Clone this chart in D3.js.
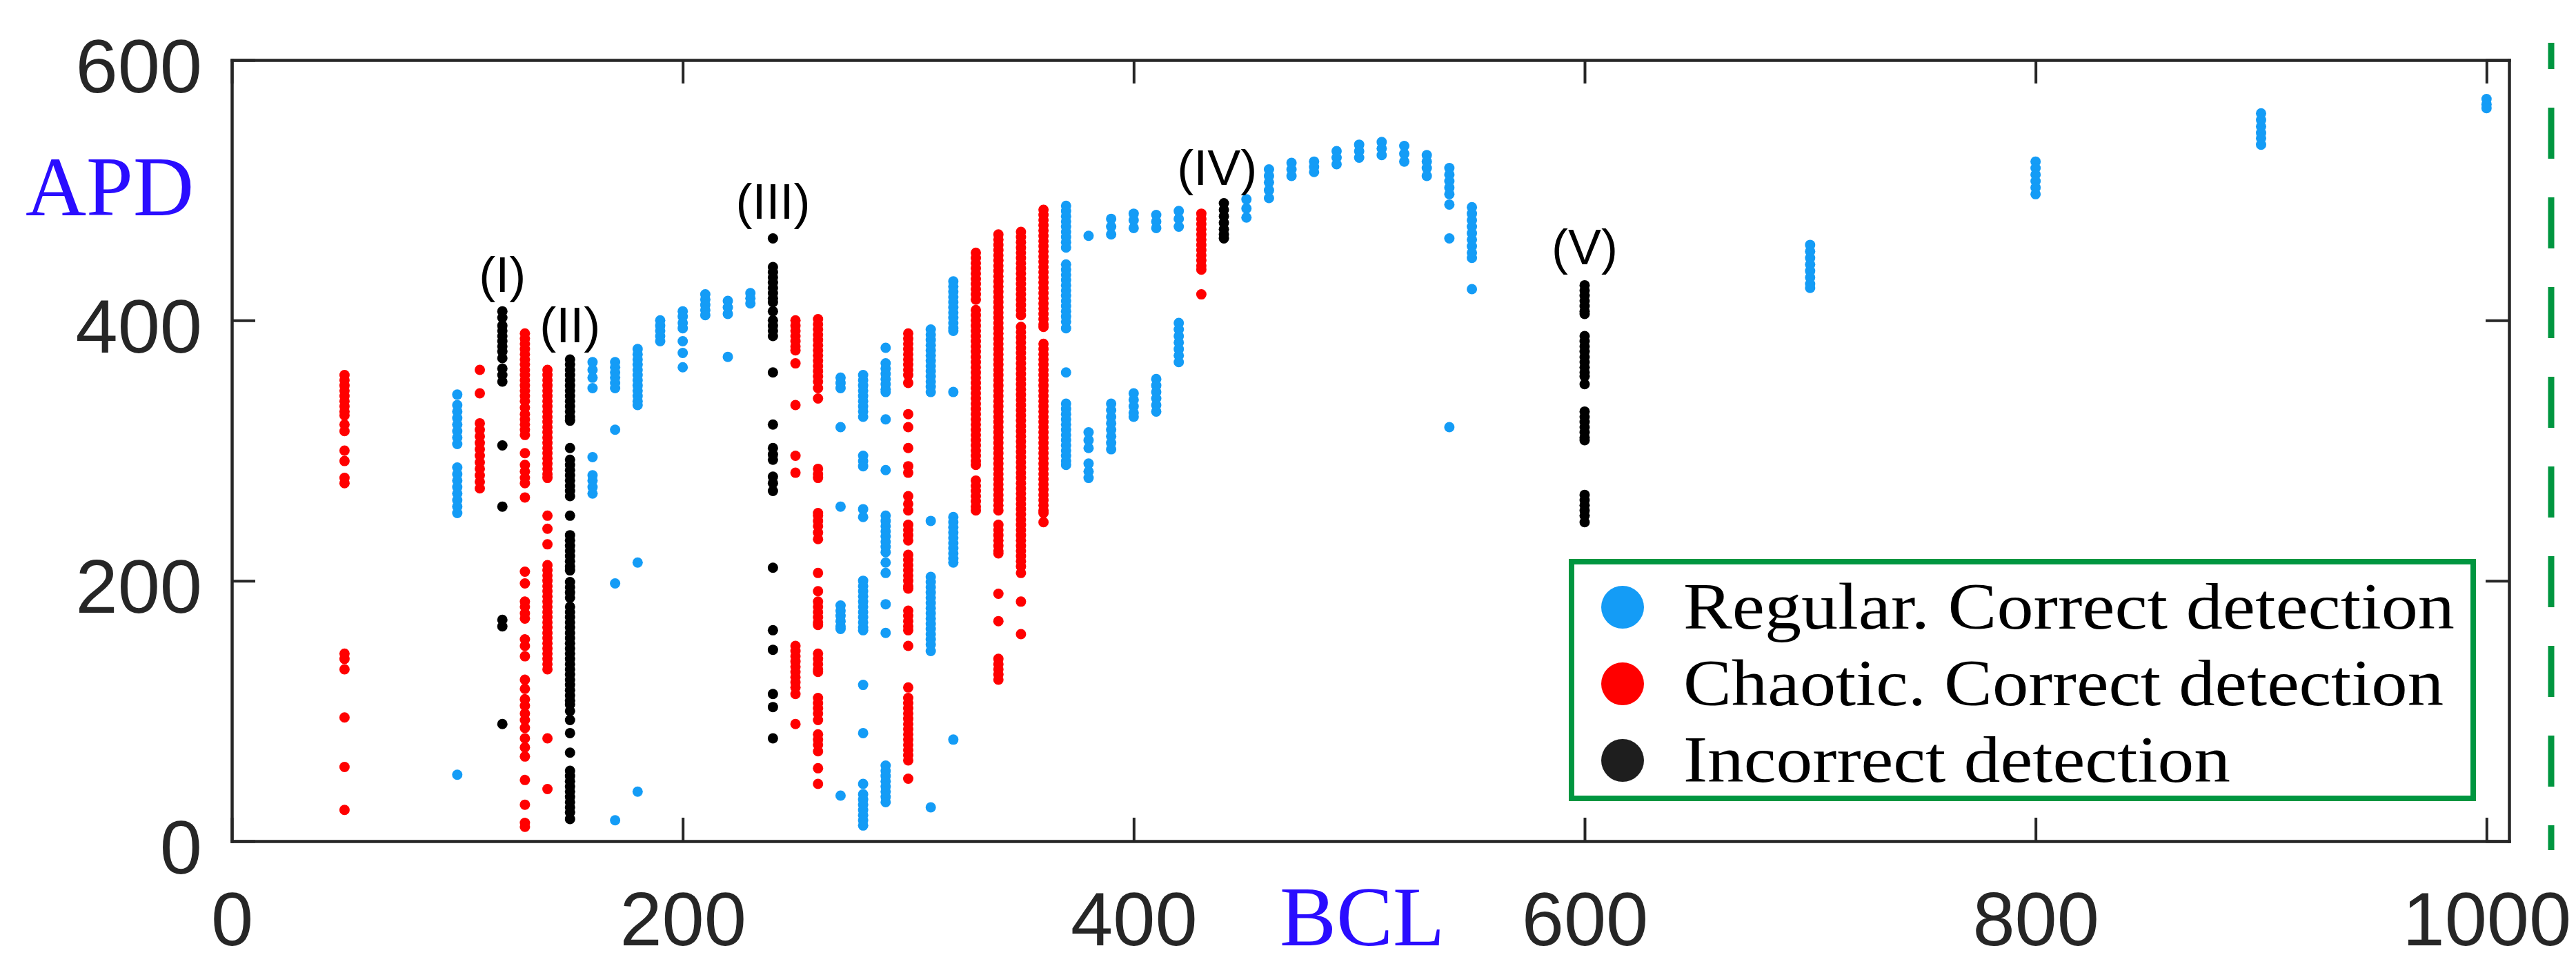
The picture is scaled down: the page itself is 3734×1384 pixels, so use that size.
<!DOCTYPE html>
<html>
<head>
<meta charset="utf-8">
<script src="https://cdn.jsdelivr.net/npm/d3@7"></script>
<style>
  html, body { margin: 0; padding: 0; background: #ffffff; }
  svg { display: block; }
</style>
</head>
<body>
<div id="chart"></div>
<script>
// ---------------- DATA ----------------
const xTicks = [0, 200, 400, 600, 800, 1000];
const yTicks = [0, 200, 400, 600];
const xDomain = [0, 1010];
const yDomain = [0, 600];

const seriesNames = ["Regular. Correct detection", "Chaotic. Correct detection", "Incorrect detection"];
const seriesColors = ["#149cf6", "#ff0000", "#000000"];
const legendColors = ["#149cf6", "#ff0000", "#1e1e1e"];

// [BCL, [APD values]]
const regular = [
  [100, [343,335,330,325,320,315,310,305,287,282,277,272,267,262,257,252,51]],
  [160, [368,362,356,348,295,281,277,272,267]],
  [170, [368,364,360,356,352,348,316,198,16]],
  [180, [378,374,370,366,362,358,354,350,346,342,338,335,214,38]],
  [190, [400,396,392,388,384]],
  [200, [407,403,398,394,384,375,364]],
  [210, [420,416,412,408,404]],
  [220, [415,410,405,372]],
  [230, [421,417,413]],
  [270, [356,352,348,318,257,181,177,173,169,165,163,35]],
  [280, [358,354,350,346,342,338,334,330,326,296,292,288,255,249,200,196,192,188,184,180,176,172,168,164,162,120,83,44,36,32,28,24,20,16,12]],
  [290, [379,367,363,359,355,351,347,345,324,285,250,246,242,238,234,230,226,222,214,206,182,160,58,54,50,46,42,38,34,30]],
  [310, [393,389,385,381,377,373,369,365,361,357,353,349,345,246,203,199,195,191,187,183,179,175,171,167,163,159,155,151,146,26]],
  [320, [430,426,422,418,414,410,406,402,398,394,392,345,249,245,241,237,233,229,225,221,217,214,78]],
  [370, [488,484,480,476,472,468,464,460,456,443,439,435,431,427,423,419,415,411,407,403,399,394,360,336,332,328,324,320,316,312,308,304,300,296,292,289]],
  [380, [465,314,308,302,290,284,279]],
  [390, [478,472,466,336,331,326,321,316,311,306,301]],
  [400, [482,477,471,344,339,334,329,326]],
  [410, [481,476,471,355,350,345,340,335,330]],
  [420, [484,478,472,398,393,388,383,378,373,368]],
  [450, [493,486,479]],
  [460, [516,511,506,500,494]],
  [470, [521,516,511]],
  [480, [522,518,514]],
  [490, [530,525,520]],
  [500, [535,530,525]],
  [510, [537,532,527]],
  [520, [534,528,522]],
  [530, [527,522,517,511]],
  [540, [517,512,507,502,497,489,463,318]],
  [550, [487,482,477,472,467,462,457,452,448,424]],
  [700, [458,453,448,443,438,433,428,425]],
  [800, [522,517,512,507,502,497]],
  [900, [559,554,549,544,540,535]],
  [1000, [570,566,563]]
];

const chaotic = [
  [50, [358,354,350,346,342,338,334,330,327,320,315,300,292,279,275,144,140,132,95,57,24]],
  [110, [362,344,321,316,311,306,301,296,291,286,281,276,271]],
  [130, [390,386,382,378,374,370,366,362,358,354,350,346,342,338,333,328,324,320,316,312,298,289,284,279,275,264,207,198,184,180,175,171,155,150,142,124,117,109,104,98,93,87,79,72,65,47,28,14,11]],
  [140, [362,358,354,350,346,342,338,334,330,326,322,318,314,310,306,302,298,294,290,286,282,279,250,240,228,212,208,204,200,196,192,188,184,180,176,172,168,164,160,156,152,148,144,140,136,132,79,40]],
  [250, [400,396,392,388,384,380,377,367,335,296,283,150,146,142,138,134,130,126,122,118,113,90]],
  [260, [401,397,393,389,385,381,377,373,369,365,361,357,353,348,340,286,282,279,252,250,246,242,237,232,206,192,184,180,176,172,168,166,144,140,136,132,130,110,106,102,98,93,82,78,74,69,56,44]],
  [300, [390,386,382,378,374,370,366,362,358,352,328,318,302,288,283,265,259,254,243,239,235,231,220,216,212,208,204,200,196,194,177,173,169,165,162,150,118,110,106,102,98,94,90,86,82,78,74,70,66,62,48]],
  [330, [452,448,444,440,436,432,428,424,420,416,408,404,400,396,392,388,384,380,376,372,368,364,360,356,352,348,344,340,336,332,328,324,320,316,312,308,304,300,296,292,289,277,273,269,265,261,257,254]],
  [340, [466,462,458,454,450,446,442,438,434,430,426,422,418,414,410,406,402,398,394,390,386,382,378,374,370,366,362,358,354,350,346,342,338,334,330,326,322,318,314,310,306,302,298,294,290,286,282,278,274,270,266,262,258,254,243,239,235,231,227,223,221,190,169,140,136,132,128,124]],
  [350, [468,464,460,456,452,448,444,440,436,432,428,424,420,416,412,408,404,395,391,387,383,379,375,371,367,363,359,355,351,347,343,339,335,331,327,323,319,315,311,307,303,299,295,291,287,283,279,275,271,267,263,259,255,251,247,243,239,235,231,227,223,219,215,211,206,184,159]],
  [360, [485,481,477,473,469,465,461,457,453,449,445,441,437,433,429,425,421,417,413,409,405,401,397,395,382,378,374,370,366,362,358,354,350,346,342,338,334,330,326,322,318,314,310,306,302,298,294,290,286,282,278,274,270,266,262,258,254,252,245]],
  [430, [482,478,474,470,466,462,458,454,450,446,442,439,420]]
];

const incorrect = [
  [120, [407,402,396,392,388,384,380,376,371,363,358,353,304,257,170,165,90]],
  [150, [370,366,362,358,354,350,346,342,338,334,330,326,323,302,293,289,285,281,277,273,269,265,250,235,231,227,223,219,215,211,208,199,195,191,187,180,176,172,168,164,160,156,152,148,144,140,136,132,128,124,120,116,112,108,105,100,93,83,68,54,50,46,42,38,34,30,26,22,17]],
  [240, [463,441,437,433,429,425,421,417,414,407,400,396,392,388,360,320,302,297,293,280,275,269,210,162,147,113,103,79]],
  [440, [490,485,480,475,470,466,463]],
  [600, [427,423,419,415,411,407,405,388,384,380,376,372,368,364,360,357,351,330,326,322,318,314,310,308,266,262,258,254,250,245]]
];

// Annotation labels, anchored in data coordinates (BCL, APD of text baseline)
const annotationLabels = ["(I)", "(II)", "(III)", "(IV)", "(V)"];
const annotationBCL = [120, 150, 240, 437, 600];
const annotationAPD = [422, 383, 478, 504, 443];

// ---------------- LAYOUT ----------------
const W = 3734, H = 1384;
const plot = { left: 336, right: 3637, top: 87, bottom: 1219 };
const axisColor = "#262626";
const tickFont = "'Liberation Sans', Arial, Helvetica, sans-serif";
const serifFont = "'Liberation Serif', 'Times New Roman', serif";

const svg = d3.select("#chart").append("svg")
  .attr("width", W).attr("height", H)
  .attr("viewBox", `0 0 ${W} ${H}`);

svg.append("rect").attr("width", W).attr("height", H).attr("fill", "#ffffff");

const x = d3.scaleLinear().domain(xDomain).range([plot.left, plot.right]);
const y = d3.scaleLinear().domain(yDomain).range([plot.bottom, plot.top]);

// ---------------- POINTS ----------------
function flatten(series) {
  const out = [];
  series.forEach(([bcl, vals]) => vals.forEach(v => out.push({ bcl, apd: v })));
  return out;
}
const groups = [regular, chaotic, incorrect];
const pointsG = svg.append("g").attr("class", "points");
groups.forEach((series, i) => {
  pointsG.append("g")
    .selectAll("circle")
    .data(flatten(series))
    .join("circle")
    .attr("cx", d => x(d.bcl))
    .attr("cy", d => y(d.apd))
    .attr("r", 7.5)
    .attr("fill", seriesColors[i]);
});

// ---------------- AXES ----------------
const tickLen = 34;
function styleAxis(g) {
  g.selectAll("path.domain").attr("stroke", axisColor).attr("stroke-width", 4.5);
  g.selectAll(".tick line").attr("stroke", axisColor).attr("stroke-width", 4);
}

const gx = svg.append("g")
  .attr("transform", `translate(0,${plot.bottom})`)
  .call(d3.axisBottom(x).tickValues(xTicks).tickSizeInner(-tickLen).tickSizeOuter(0).tickFormat(d3.format("d")))
  .call(styleAxis);
gx.selectAll(".tick text")
  .attr("y", 151).attr("dy", null)
  .attr("fill", axisColor)
  .style("font-family", tickFont).style("font-size", "110px");

const gy = svg.append("g")
  .attr("transform", `translate(${plot.left},0)`)
  .call(d3.axisLeft(y).tickValues(yTicks).tickSizeInner(-tickLen).tickSizeOuter(0).tickFormat(d3.format("d")))
  .call(styleAxis);
gy.selectAll(".tick text")
  .attr("x", -43).attr("dy", null).attr("y", 46)
  .attr("fill", axisColor)
  .style("font-family", tickFont).style("font-size", "110px");

svg.append("g")
  .attr("transform", `translate(0,${plot.top})`)
  .call(d3.axisTop(x).tickValues(xTicks).tickSizeInner(-tickLen).tickSizeOuter(0).tickFormat(""))
  .call(styleAxis);

svg.append("g")
  .attr("transform", `translate(${plot.right},0)`)
  .call(d3.axisRight(y).tickValues(yTicks).tickSizeInner(-tickLen).tickSizeOuter(0).tickFormat(""))
  .call(styleAxis);

svg.selectAll(".domain").attr("stroke-linecap", "square");

// ---------------- AXIS TITLES ----------------
svg.append("text")
  .attr("x", 37).attr("y", 312)
  .attr("fill", "#2a0dff")
  .style("font-family", serifFont).style("font-size", "122px")
  .text("APD");

svg.append("text")
  .attr("x", 1855).attr("y", 1370)
  .attr("fill", "#2a0dff")
  .style("font-family", serifFont).style("font-size", "123px")
  .text("BCL");

// ---------------- ANNOTATIONS ----------------
svg.append("g").selectAll("text")
  .data(annotationLabels)
  .join("text")
  .attr("x", (d, i) => x(annotationBCL[i]))
  .attr("y", (d, i) => y(annotationAPD[i]))
  .attr("text-anchor", "middle")
  .attr("fill", "#000000")
  .style("font-family", tickFont).style("font-size", "72px")
  .text(d => d);

// ---------------- LEGEND ----------------
const legend = svg.append("g").attr("class", "legend");
const lg = { x0: 2274, y0: 810, x1: 3589, y1: 1161, sw: 8 };
legend.append("rect")
  .attr("x", lg.x0 + lg.sw / 2).attr("y", lg.y0 + lg.sw / 2)
  .attr("width", lg.x1 - lg.x0 - lg.sw).attr("height", lg.y1 - lg.y0 - lg.sw)
  .attr("fill", "#ffffff")
  .attr("stroke", "#009640").attr("stroke-width", lg.sw);

const legendBaselines = [911, 1022, 1133];
const legendWidths = [1118, 1102, 793];
seriesNames.forEach((name, i) => {
  legend.append("circle")
    .attr("cx", 2352).attr("cy", legendBaselines[i] - 31)
    .attr("r", 31)
    .attr("fill", legendColors[i]);
  legend.append("text")
    .attr("x", 2440).attr("y", legendBaselines[i])
    .attr("fill", "#000000")
    .attr("textLength", legendWidths[i])
    .attr("lengthAdjust", "spacingAndGlyphs")
    .style("font-family", serifFont).style("font-size", "95px")
    .text(name);
});

// ---------------- GREEN DASHED LINE ----------------
svg.append("line")
  .attr("x1", 3698).attr("x2", 3698)
  .attr("y1", 62).attr("y2", 1232)
  .attr("stroke", "#009640").attr("stroke-width", 9)
  .attr("stroke-dasharray", "74 56")
  .attr("stroke-dashoffset", 36);
</script>
</body>
</html>
